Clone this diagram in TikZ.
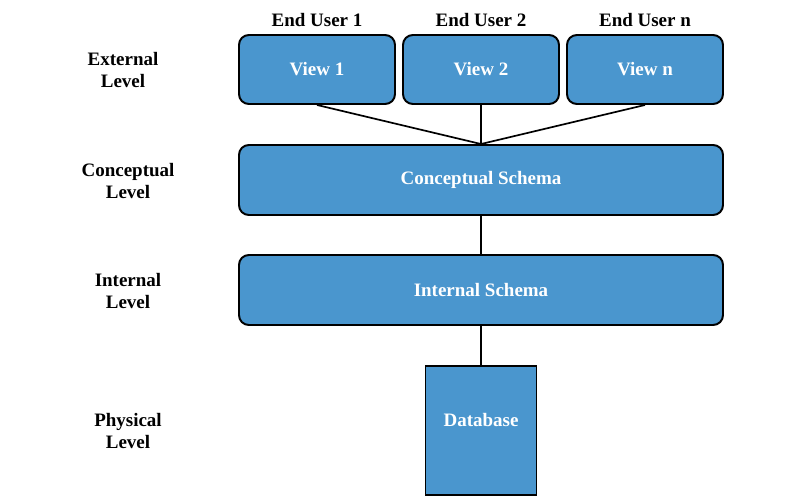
\documentclass[tikz,border=0pt]{standalone}
\usepackage{fontspec}
\setmainfont{Liberation Serif}
\usepackage{xcolor}
\usetikzlibrary{positioning,calc}
\definecolor{schemablue}{HTML}{4A96CE}

\tikzset{
  levelbox/.style={draw=black,line width=1.4pt,fill=schemablue,rounded corners=7pt,
    text=white,font=\bfseries\fontsize{13.5}{16}\selectfont,inner sep=0pt},
  leveltext/.style={font=\bfseries\fontsize{13.5}{16}\selectfont,align=center,text=black},
  link/.style={draw=black,line width=1.2pt}
}

\begin{document}
\begin{tikzpicture}[x=0.025cm,y=-0.025cm]
\useasboundingbox (0,0) rectangle (800,500);

% Views
\node[levelbox,minimum width=156*0.025cm,minimum height=69*0.025cm] (view1) at (317,69.5) {View 1};
\node[levelbox,minimum width=156*0.025cm,minimum height=69*0.025cm] (view2) at (481,69.5) {View 2};
\node[levelbox,minimum width=156*0.025cm,minimum height=69*0.025cm] (viewn) at (645,69.5) {View n};

% End users
\node[leveltext] (user1) at (317,20) {End User 1};
\node[leveltext] (user2) at (481,20) {End User 2};
\node[leveltext] (usern) at (645,20) {End User n};

% Schemas
\node[levelbox,minimum width=484*0.025cm,minimum height=70*0.025cm] (concept) at (481,180) {Conceptual Schema};
\node[levelbox,minimum width=484*0.025cm,minimum height=70*0.025cm] (internal) at (481,290) {Internal Schema};

% Database
\node[levelbox,rounded corners=0pt,minimum width=111*0.025cm,minimum height=129*0.025cm] (db) at (481,430.5) {};
\node[text=white,font=\bfseries\fontsize{13.5}{16}\selectfont] (dbname) at (481,420) {Database};

% Levels
\node[leveltext] (external) at (123,70) {External\\Level};
\node[leveltext] (conceptual) at (128,181) {Conceptual\\Level};
\node[leveltext] (internallvl) at (128,291) {Internal\\Level};
\node[leveltext] (physical) at (128,431) {Physical\\Level};

% Connectors
\draw[link] (view1.south) -- (concept.north);
\draw[link] (view2.south) -- (concept.north);
\draw[link] (viewn.south) -- (concept.north);
\draw[link] (concept.south) -- (internal.north);
\draw[link] (internal.south) -- (db.north);

\end{tikzpicture}
\end{document}
